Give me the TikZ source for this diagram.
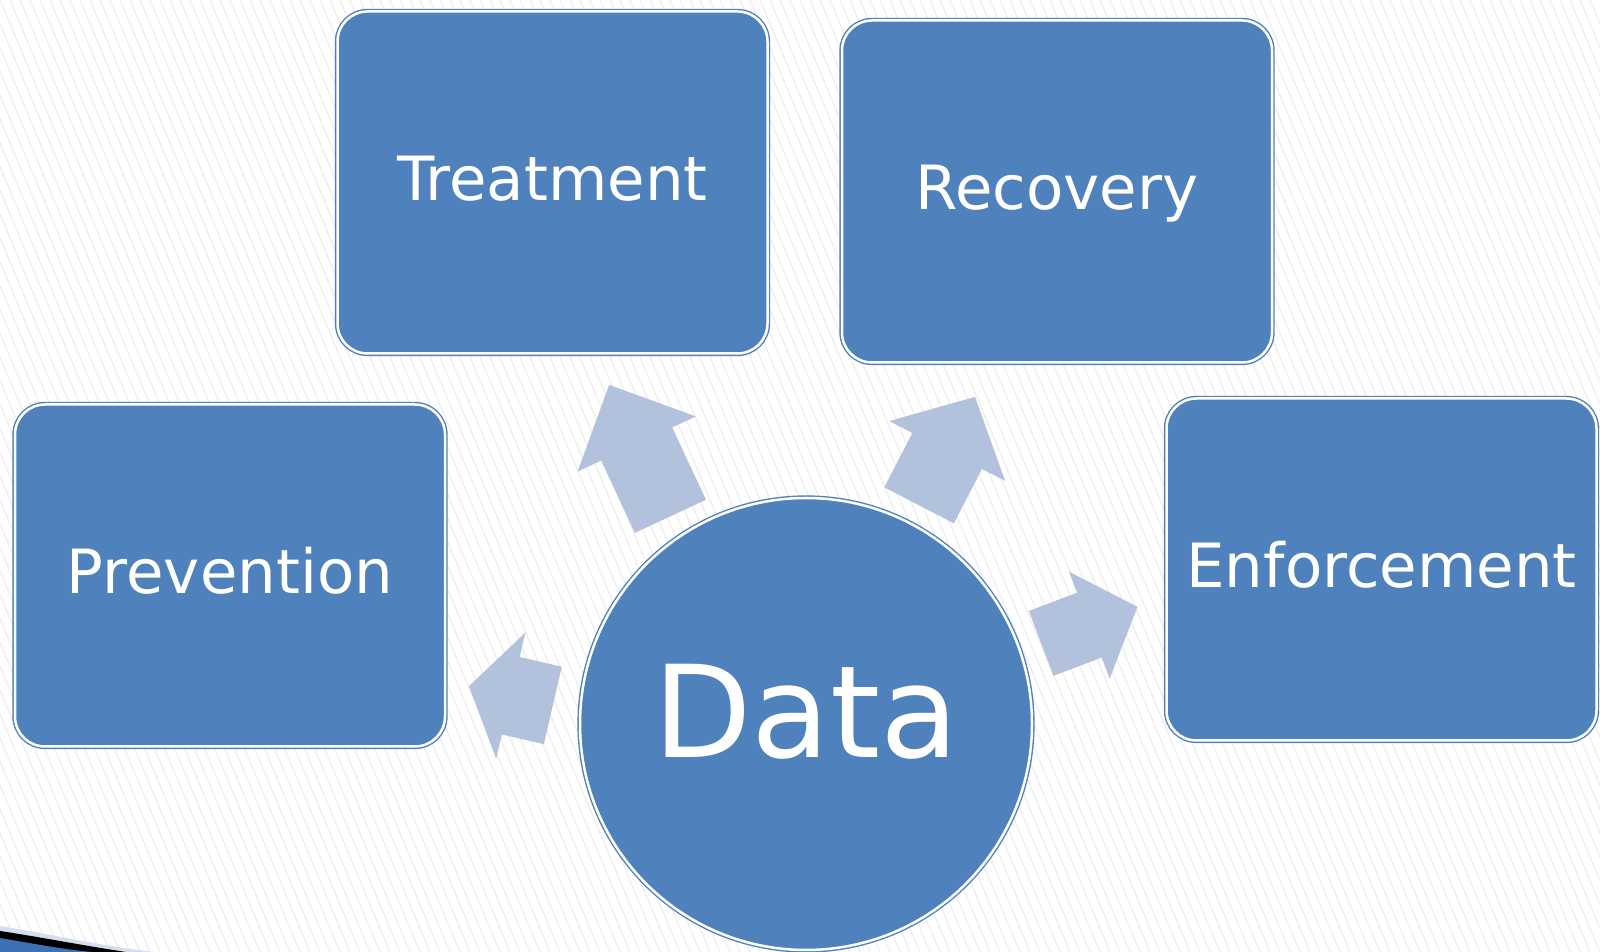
\documentclass[tikz,border=0pt]{standalone}
\usepackage{fontspec}
\setmainfont{DejaVu Sans}
\usetikzlibrary{shapes.arrows}

\definecolor{boxblue}{RGB}{79,129,189}
\definecolor{arrowblue}{RGB}{179,194,220}
\definecolor{stripegray}{RGB}{238,238,238}
\definecolor{swooshlight}{RGB}{212,222,238}
\definecolor{swooshblue}{RGB}{62,112,182}

\begin{document}
\begin{tikzpicture}[
            x = 1pt, y = 1pt,
            box/.style={draw=boxblue, double=white, double distance=2.5pt, line width=1.4pt,
                fill=boxblue, rounded corners=30pt, inner sep=0pt,
                minimum width=430pt, minimum height=342pt, text=white,
                font=\fontsize{61}{72}\selectfont, text height=48pt, text depth=12pt},
            hub/.style={box, circle, sharp corners, minimum size=452pt,
                font=\fontsize{128}{150}\selectfont, text height=96pt, text depth=28pt},
            blockarrow/.style={single arrow, fill=arrowblue, inner xsep=0pt, anchor=tail},
            stripe/.style={draw=stripegray, line width=1.3pt},
            ]

        \useasboundingbox (0, 0) rectangle (1600, 952);
        \fill[white] (0, 0) rectangle (1600, 952);

        % background stripes
        \begin{scope}
            \clip (0, 0) rectangle (1600, 952);
            \foreach \i in {-45,...,160}
                \draw[stripe] (\i*10, 952) -- (\i*10 + 400, 0);
        \end{scope}

        % corner swoosh
        \fill[swooshlight] (0, 26) .. controls (50, 18) and (100, 6) .. (155, 0) -- (0, 0) -- cycle;
        \fill[black] (0, 21) .. controls (40, 15) and (80, 7) .. (126, 0) -- (0, 0) -- cycle;
        \fill[swooshblue] (0, 14) .. controls (30, 9) and (60, 3) .. (92, 0) -- (0, 0) -- cycle;

        \node[box] (treatment) at (552.5, 769.5) {Treatment};
        \node[box] (recovery) at (1057, 760.5) {Recovery};
        \node[box] (prevention) at (230, 376.5) {Prevention};
        \node[box] (enforcement) at (1381.5, 382.5) {Enforcement};

        \node[hub] (data) at (806, 228) {Data};

        \node[blockarrow, rotate=115, minimum height=145pt, inner ysep=39pt,
            single arrow head extend=26pt] (totreatment) at (670.5, 435.5) {};
        \node[blockarrow, rotate=62.7, minimum height=122pt, inner ysep=39pt,
            single arrow head extend=26pt, single arrow tip angle=94] (torecovery) at (919, 446.5) {};
        \node[blockarrow, rotate=20.8, minimum height=103pt, inner ysep=34.5pt,
            single arrow head extend=22.5pt, single arrow tip angle=96] (toenforcement) at (1041, 308.5) {};
        \node[blockarrow, rotate=167, minimum height=86pt, inner ysep=39.5pt,
            single arrow head extend=25pt, single arrow tip angle=113] (toprevention) at (553, 246.5) {};
    \end{tikzpicture}
\end{document}
